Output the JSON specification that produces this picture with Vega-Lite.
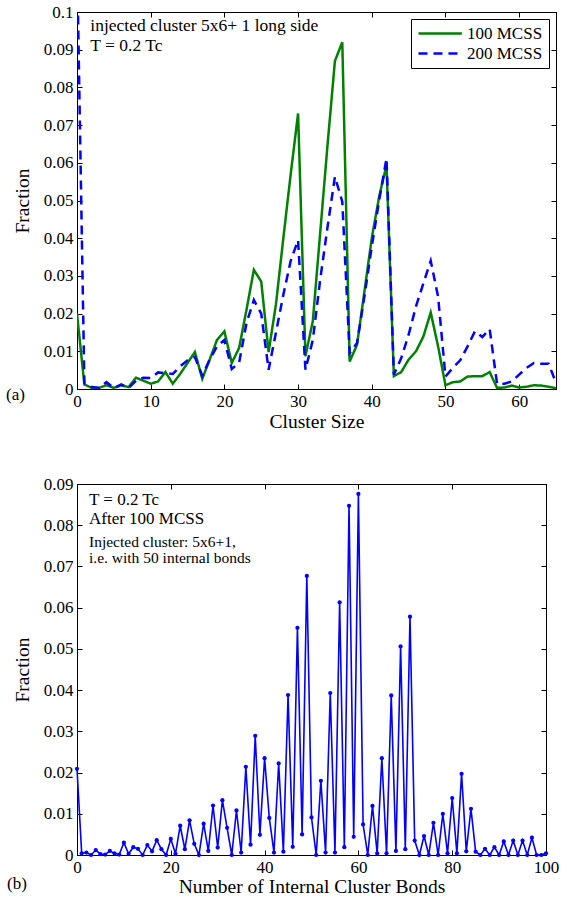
{
  "$schema": "https://vega.github.io/schema/vega-lite/v6.json",
  "padding": {"left": 5, "top": 2, "right": 5, "bottom": 3},
  "background": "white",
  "spacing": 95,
  "bounds": "flush",
  "resolve": {"legend": {"color": "independent", "strokeDash": "independent"}, "scale": {"color": "independent", "strokeDash": "independent"}},
  "config": {
    "font": "Liberation Serif",
    "view": {"stroke": "black", "strokeWidth": 1},
    "axis": {
      "grid": false, "domainColor": "black", "domainWidth": 1, "tickColor": "black", "tickWidth": 1,
      "labelColor": "black", "titleColor": "black", "labelFontSize": 17, "titleFontSize": 19.5,
      "titleFontWeight": "normal", "tickSize": -5, "labelPadding": 9, "labelFlush": false,
      "labelFont": "Liberation Serif", "titleFont": "Liberation Serif", "titlePadding": 11
    },
    "legend": {
      "orient": "top-right", "offset": 7, "fillColor": "white", "strokeColor": "black",
      "padding": 6, "labelFontSize": 17, "labelFont": "Liberation Serif", "labelColor": "black",
      "symbolType": "M-1,0H5.2", "symbolSize": 196, "symbolStrokeWidth": 2.5, "labelOffset": 33, "rowPadding": 2
    },
    "title": {"font": "Liberation Serif", "fontSize": 17, "fontWeight": "normal", "color": "black"}
  },
  "datasets": {
    "a": [
      {"size": 0, "100 MCSS": 0.020, "200 MCSS": 0.115},
      {"size": 1, "100 MCSS": 0.0012, "200 MCSS": 0.0015},
      {"size": 2, "100 MCSS": 0.0003, "200 MCSS": 0.0005},
      {"size": 3, "100 MCSS": 0.0003, "200 MCSS": 0.0003},
      {"size": 4, "100 MCSS": 0.001, "200 MCSS": 0.0018},
      {"size": 5, "100 MCSS": 0.0003, "200 MCSS": 0.0002},
      {"size": 6, "100 MCSS": 0.001, "200 MCSS": 0.0012},
      {"size": 7, "100 MCSS": 0.0005, "200 MCSS": 0.0003},
      {"size": 8, "100 MCSS": 0.003, "200 MCSS": 0.0022},
      {"size": 9, "100 MCSS": 0.0022, "200 MCSS": 0.003},
      {"size": 10, "100 MCSS": 0.0014, "200 MCSS": 0.0029},
      {"size": 11, "100 MCSS": 0.002, "200 MCSS": 0.0044},
      {"size": 12, "100 MCSS": 0.0045, "200 MCSS": 0.0042},
      {"size": 13, "100 MCSS": 0.0014, "200 MCSS": 0.004},
      {"size": 14, "100 MCSS": 0.004, "200 MCSS": 0.006},
      {"size": 15, "100 MCSS": 0.0069, "200 MCSS": 0.0076},
      {"size": 16, "100 MCSS": 0.0098, "200 MCSS": 0.0085},
      {"size": 17, "100 MCSS": 0.0027, "200 MCSS": 0.0035},
      {"size": 18, "100 MCSS": 0.0078, "200 MCSS": 0.0078},
      {"size": 19, "100 MCSS": 0.013, "200 MCSS": 0.0113},
      {"size": 20, "100 MCSS": 0.0153, "200 MCSS": 0.013},
      {"size": 21, "100 MCSS": 0.0069, "200 MCSS": 0.0053},
      {"size": 22, "100 MCSS": 0.0109, "200 MCSS": 0.007},
      {"size": 23, "100 MCSS": 0.021, "200 MCSS": 0.0175},
      {"size": 24, "100 MCSS": 0.0316, "200 MCSS": 0.0236},
      {"size": 25, "100 MCSS": 0.0285, "200 MCSS": 0.020},
      {"size": 26, "100 MCSS": 0.0098, "200 MCSS": 0.0051},
      {"size": 27, "100 MCSS": 0.0225, "200 MCSS": 0.015},
      {"size": 28, "100 MCSS": 0.040, "200 MCSS": 0.025},
      {"size": 29, "100 MCSS": 0.057, "200 MCSS": 0.034},
      {"size": 30, "100 MCSS": 0.0731, "200 MCSS": 0.0395},
      {"size": 31, "100 MCSS": 0.0087, "200 MCSS": 0.0051},
      {"size": 32, "100 MCSS": 0.018, "200 MCSS": 0.013},
      {"size": 33, "100 MCSS": 0.0414, "200 MCSS": 0.029},
      {"size": 34, "100 MCSS": 0.0648, "200 MCSS": 0.043},
      {"size": 35, "100 MCSS": 0.087, "200 MCSS": 0.0563},
      {"size": 36, "100 MCSS": 0.092, "200 MCSS": 0.0497},
      {"size": 37, "100 MCSS": 0.0073, "200 MCSS": 0.0095},
      {"size": 38, "100 MCSS": 0.0117, "200 MCSS": 0.0122},
      {"size": 39, "100 MCSS": 0.0258, "200 MCSS": 0.0245},
      {"size": 40, "100 MCSS": 0.040, "200 MCSS": 0.0378},
      {"size": 41, "100 MCSS": 0.051, "200 MCSS": 0.050},
      {"size": 42, "100 MCSS": 0.0594, "200 MCSS": 0.0612},
      {"size": 43, "100 MCSS": 0.0034, "200 MCSS": 0.0038},
      {"size": 44, "100 MCSS": 0.0045, "200 MCSS": 0.0082},
      {"size": 45, "100 MCSS": 0.0078, "200 MCSS": 0.0144},
      {"size": 46, "100 MCSS": 0.010, "200 MCSS": 0.0219},
      {"size": 47, "100 MCSS": 0.0139, "200 MCSS": 0.028},
      {"size": 48, "100 MCSS": 0.0203, "200 MCSS": 0.034},
      {"size": 49, "100 MCSS": 0.0113, "200 MCSS": 0.0245},
      {"size": 50, "100 MCSS": 0.001, "200 MCSS": 0.0033},
      {"size": 51, "100 MCSS": 0.0018, "200 MCSS": 0.0056},
      {"size": 52, "100 MCSS": 0.002, "200 MCSS": 0.0076},
      {"size": 53, "100 MCSS": 0.0033, "200 MCSS": 0.0113},
      {"size": 54, "100 MCSS": 0.0034, "200 MCSS": 0.0153},
      {"size": 55, "100 MCSS": 0.0034, "200 MCSS": 0.0138},
      {"size": 56, "100 MCSS": 0.0045, "200 MCSS": 0.0159},
      {"size": 57, "100 MCSS": 0.0003, "200 MCSS": 0.0014},
      {"size": 58, "100 MCSS": 0.0004, "200 MCSS": 0.0014},
      {"size": 59, "100 MCSS": 0.0009, "200 MCSS": 0.002},
      {"size": 60, "100 MCSS": 0.0004, "200 MCSS": 0.0038},
      {"size": 61, "100 MCSS": 0.0006, "200 MCSS": 0.0056},
      {"size": 62, "100 MCSS": 0.001, "200 MCSS": 0.0069},
      {"size": 63, "100 MCSS": 0.0009, "200 MCSS": 0.0067},
      {"size": 64, "100 MCSS": 0.0006, "200 MCSS": 0.0067},
      {"size": 65, "100 MCSS": 0.0002, "200 MCSS": 0.0016}
    ],
    "b": [
      {"bonds": 0, "fraction": 0.0209}, {"bonds": 1, "fraction": 0.0004}, {"bonds": 2, "fraction": 0.0006},
      {"bonds": 3, "fraction": 0}, {"bonds": 4, "fraction": 0.0012}, {"bonds": 5, "fraction": 0.0002},
      {"bonds": 6, "fraction": 0.0001}, {"bonds": 7, "fraction": 0.001}, {"bonds": 8, "fraction": 0.0004},
      {"bonds": 9, "fraction": 0.0001}, {"bonds": 10, "fraction": 0.003}, {"bonds": 11, "fraction": 0.0003},
      {"bonds": 12, "fraction": 0.0019}, {"bonds": 13, "fraction": 0.0015}, {"bonds": 14, "fraction": 0},
      {"bonds": 15, "fraction": 0.0024}, {"bonds": 16, "fraction": 0.0009}, {"bonds": 17, "fraction": 0.0036},
      {"bonds": 18, "fraction": 0.0014}, {"bonds": 19, "fraction": 0}, {"bonds": 20, "fraction": 0.0039},
      {"bonds": 21, "fraction": 0.0003}, {"bonds": 22, "fraction": 0.0071}, {"bonds": 23, "fraction": 0.0014},
      {"bonds": 24, "fraction": 0.0084}, {"bonds": 25, "fraction": 0.0027}, {"bonds": 26, "fraction": 0},
      {"bonds": 27, "fraction": 0.0076}, {"bonds": 28, "fraction": 0.001}, {"bonds": 29, "fraction": 0.012},
      {"bonds": 30, "fraction": 0.0018}, {"bonds": 31, "fraction": 0.0133}, {"bonds": 32, "fraction": 0.0066},
      {"bonds": 33, "fraction": 0}, {"bonds": 34, "fraction": 0.0108}, {"bonds": 35, "fraction": 0.0006},
      {"bonds": 36, "fraction": 0.0214}, {"bonds": 37, "fraction": 0.0025}, {"bonds": 38, "fraction": 0.0289},
      {"bonds": 39, "fraction": 0.0049}, {"bonds": 40, "fraction": 0.0235}, {"bonds": 41, "fraction": 0.009},
      {"bonds": 42, "fraction": 0.0006}, {"bonds": 43, "fraction": 0.0222}, {"bonds": 44, "fraction": 0.0008},
      {"bonds": 45, "fraction": 0.0388}, {"bonds": 46, "fraction": 0.002}, {"bonds": 47, "fraction": 0.0551},
      {"bonds": 48, "fraction": 0.005}, {"bonds": 49, "fraction": 0.0677}, {"bonds": 50, "fraction": 0.0091},
      {"bonds": 51, "fraction": 0}, {"bonds": 52, "fraction": 0.018}, {"bonds": 53, "fraction": 0.0006},
      {"bonds": 54, "fraction": 0.0393}, {"bonds": 55, "fraction": 0.0006}, {"bonds": 56, "fraction": 0.0613},
      {"bonds": 57, "fraction": 0.0019}, {"bonds": 58, "fraction": 0.0847}, {"bonds": 59, "fraction": 0.0044},
      {"bonds": 60, "fraction": 0.0876}, {"bonds": 61, "fraction": 0.0074}, {"bonds": 62, "fraction": 0},
      {"bonds": 63, "fraction": 0.0119}, {"bonds": 64, "fraction": 0.0004}, {"bonds": 65, "fraction": 0.0235},
      {"bonds": 66, "fraction": 0.0004}, {"bonds": 67, "fraction": 0.0387}, {"bonds": 68, "fraction": 0.001},
      {"bonds": 69, "fraction": 0.0506}, {"bonds": 70, "fraction": 0.0014}, {"bonds": 71, "fraction": 0.0578},
      {"bonds": 72, "fraction": 0.0035}, {"bonds": 73, "fraction": 0}, {"bonds": 74, "fraction": 0.0046},
      {"bonds": 75, "fraction": 0}, {"bonds": 76, "fraction": 0.0078}, {"bonds": 77, "fraction": 0},
      {"bonds": 78, "fraction": 0.01}, {"bonds": 79, "fraction": 0.0004}, {"bonds": 80, "fraction": 0.0138},
      {"bonds": 81, "fraction": 0.0004}, {"bonds": 82, "fraction": 0.0197}, {"bonds": 83, "fraction": 0.0009},
      {"bonds": 84, "fraction": 0.0112}, {"bonds": 85, "fraction": 0.0008}, {"bonds": 86, "fraction": 0},
      {"bonds": 87, "fraction": 0.0015}, {"bonds": 88, "fraction": 0}, {"bonds": 89, "fraction": 0.0019},
      {"bonds": 90, "fraction": 0}, {"bonds": 91, "fraction": 0.0033}, {"bonds": 92, "fraction": 0},
      {"bonds": 93, "fraction": 0.0035}, {"bonds": 94, "fraction": 0}, {"bonds": 95, "fraction": 0.0035},
      {"bonds": 96, "fraction": 0}, {"bonds": 97, "fraction": 0.0042}, {"bonds": 98, "fraction": 0},
      {"bonds": 99, "fraction": 0}, {"bonds": 100, "fraction": 0.0004}
    ],
    "one": [{}]
  },
  "vconcat": [
    {
      "width": 479,
      "height": 377,
      "title": {"text": "(a)", "orient": "bottom", "anchor": "start", "frame": "group", "dx": -71, "offset": -44},
      "layer": [
        {
          "data": {"name": "a"},
          "transform": [{"fold": ["100 MCSS", "200 MCSS"], "as": ["series", "fraction"]}],
          "mark": {"type": "line", "clip": true, "strokeWidth": 2.5},
          "encoding": {
            "x": {"field": "size", "type": "quantitative", "scale": {"domain": [0, 65], "nice": false, "zero": false},
                  "axis": {"values": [0, 10, 20, 30, 40, 50, 60], "title": "Cluster Size", "titlePadding": 3}},
            "y": {"field": "fraction", "type": "quantitative", "scale": {"domain": [0, 0.1], "nice": false},
                  "axis": {"values": [0, 0.01, 0.02, 0.03, 0.04, 0.05, 0.06, 0.07, 0.08, 0.09, 0.1], "format": "~g", "title": "Fraction"}},
            "color": {"field": "series", "type": "nominal", "title": null,
                      "scale": {"domain": ["100 MCSS", "200 MCSS"], "range": ["#008000", "#0000ff"]}},
            "strokeDash": {"field": "series", "type": "nominal", "title": null,
                           "scale": {"domain": ["100 MCSS", "200 MCSS"], "range": [[1, 0], [9, 6]]}}
          }
        },
        {
          "data": {"name": "one"},
          "mark": {"type": "text", "align": "left", "baseline": "alphabetic", "fontSize": 17.5, "lineHeight": 19.7, "color": "black"},
          "encoding": {
            "x": {"datum": 1.8, "type": "quantitative", "axis": null},
            "y": {"datum": 0.0949, "type": "quantitative", "axis": null},
            "text": {"value": ["injected cluster 5x6+ 1 long side", "T = 0.2 Tc"]}
          }
        },
        {
          "data": {"name": "a"},
          "mark": {"type": "point", "opacity": 0},
          "encoding": {
            "x": {"field": "size", "type": "quantitative",
                  "axis": {"orient": "top", "labels": false, "title": null, "values": [0, 10, 20, 30, 40, 50, 60]}},
            "y": {"field": "100 MCSS", "type": "quantitative",
                  "axis": {"orient": "right", "labels": false, "title": null, "values": [0, 0.01, 0.02, 0.03, 0.04, 0.05, 0.06, 0.07, 0.08, 0.09, 0.1]}}
          }
        }
      ],
      "resolve": {"axis": {"x": "independent", "y": "independent"}}
    },
    {
      "width": 469,
      "height": 371,
      "title": {"text": "(b)", "orient": "bottom", "anchor": "start", "frame": "group", "dx": -70, "offset": -20},
      "layer": [
        {
          "data": {"name": "b"},
          "mark": {"type": "line", "color": "#0000ff", "strokeWidth": 1.6,
                   "point": {"filled": true, "size": 18, "color": "#0000ff"}},
          "encoding": {
            "x": {"field": "bonds", "type": "quantitative", "scale": {"domain": [0, 100], "nice": false, "zero": false},
                  "axis": {"values": [0, 20, 40, 60, 80, 100], "title": "Number of Internal Cluster Bonds", "titlePadding": 2}},
            "y": {"field": "fraction", "type": "quantitative", "scale": {"domain": [0, 0.09], "nice": false},
                  "axis": {"values": [0, 0.01, 0.02, 0.03, 0.04, 0.05, 0.06, 0.07, 0.08, 0.09], "format": "~g", "title": "Fraction"}}
          }
        },
        {
          "data": {"name": "one"},
          "mark": {"type": "text", "align": "left", "baseline": "alphabetic", "fontSize": 17, "lineHeight": 19, "color": "black"},
          "encoding": {
            "x": {"datum": 2.56, "type": "quantitative", "axis": null},
            "y": {"datum": 0.085, "type": "quantitative", "axis": null},
            "text": {"value": ["T = 0.2 Tc", "After 100 MCSS"]}
          }
        },
        {
          "data": {"name": "one"},
          "mark": {"type": "text", "align": "left", "baseline": "alphabetic", "fontSize": 15.5, "lineHeight": 16.5, "color": "black"},
          "encoding": {
            "x": {"datum": 2.56, "type": "quantitative", "axis": null},
            "y": {"datum": 0.0748, "type": "quantitative", "axis": null},
            "text": {"value": ["Injected cluster: 5x6+1,", "i.e. with 50 internal bonds"]}
          }
        },
        {
          "data": {"name": "b"},
          "mark": {"type": "point", "opacity": 0},
          "encoding": {
            "x": {"field": "bonds", "type": "quantitative",
                  "axis": {"orient": "top", "labels": false, "title": null, "values": [0, 20, 40, 60, 80, 100]}},
            "y": {"field": "fraction", "type": "quantitative",
                  "axis": {"orient": "right", "labels": false, "title": null, "values": [0, 0.01, 0.02, 0.03, 0.04, 0.05, 0.06, 0.07, 0.08, 0.09]}}
          }
        }
      ],
      "resolve": {"axis": {"x": "independent", "y": "independent"}}
    }
  ]
}
